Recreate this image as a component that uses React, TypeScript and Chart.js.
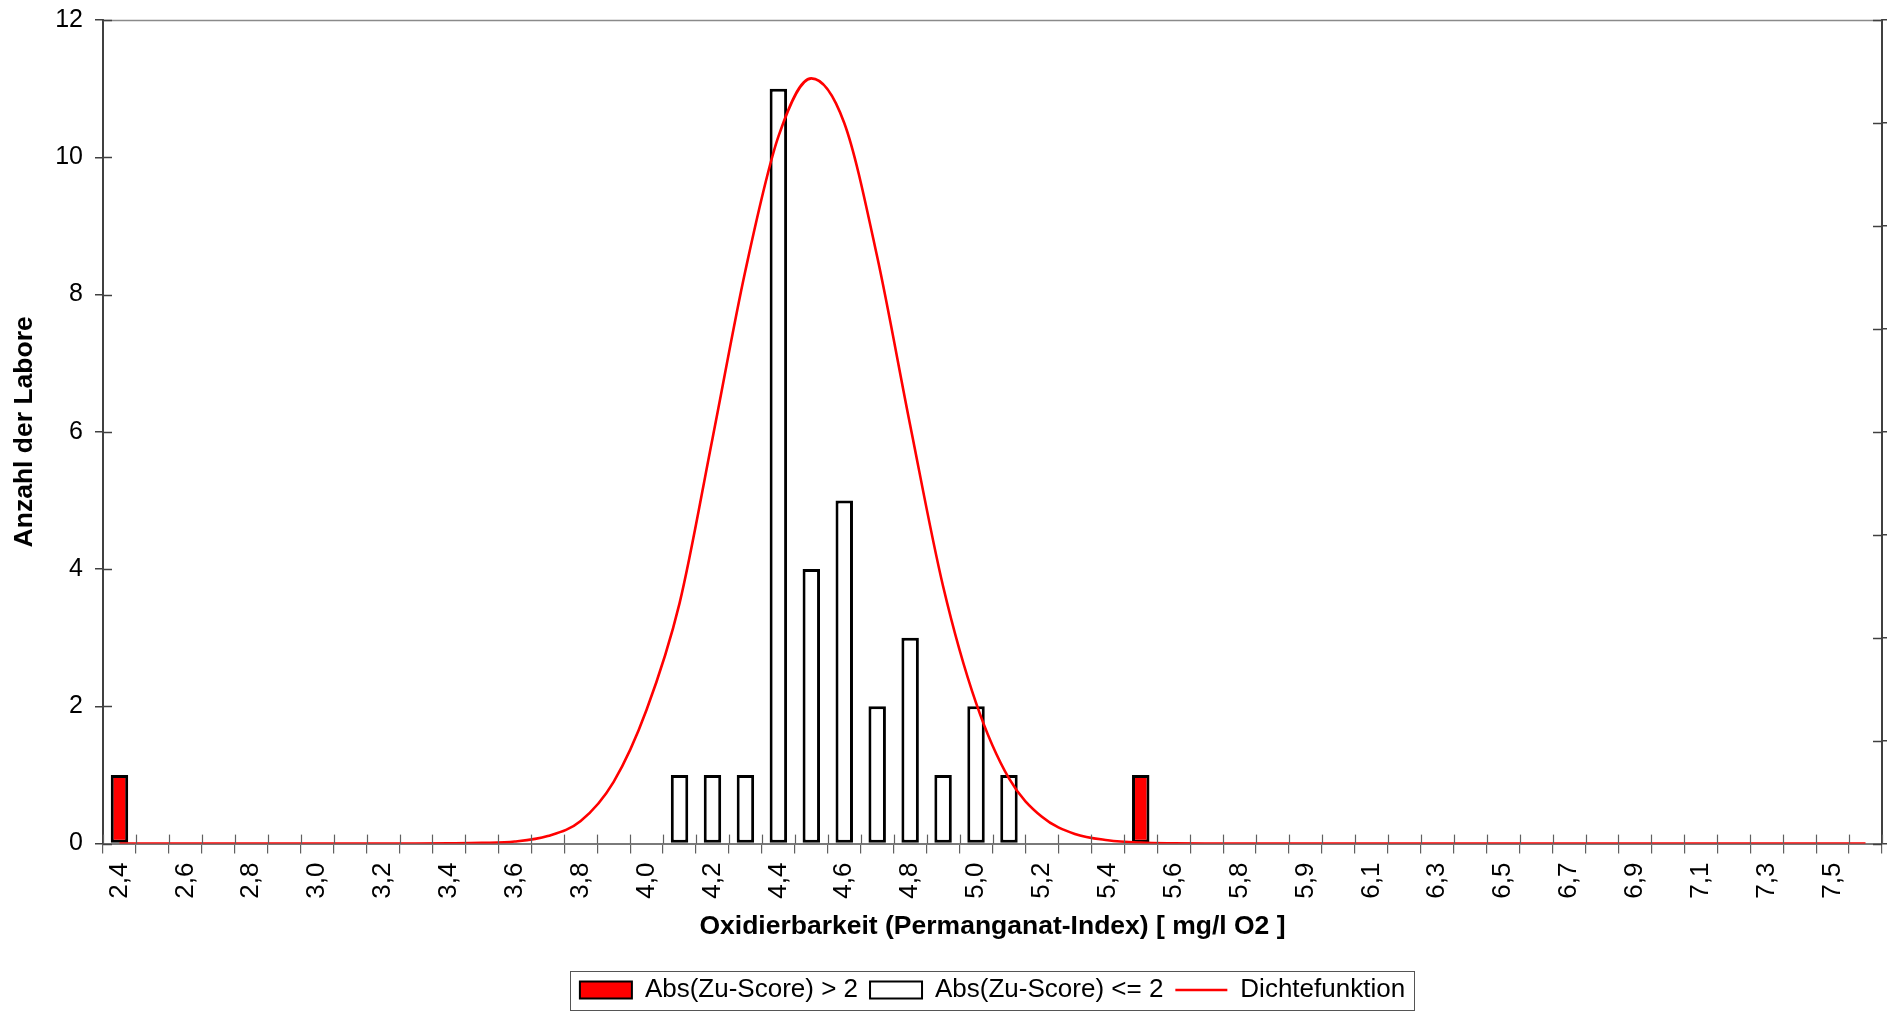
import React, { useEffect, useRef } from 'react';
import { Chart, registerables } from 'chart.js';

Chart.register(...registerables);

// Class labels (bin centres, rounded as printed on the axis)
const categories: string[] = [
  '2,4', '2,5', '2,6', '2,7', '2,8', '2,9', '3,0', '3,1', '3,2', '3,3',
  '3,4', '3,5', '3,6', '3,7', '3,8', '3,9', '4,0', '4,1', '4,2', '4,3',
  '4,4', '4,5', '4,6', '4,7', '4,8', '4,9', '5,0', '5,1', '5,2', '5,3',
  '5,4', '5,5', '5,6', '5,7', '5,8', '5,8', '5,9', '6,0', '6,1', '6,2',
  '6,3', '6,4', '6,5', '6,6', '6,7', '6,8', '6,9', '7,0', '7,1', '7,2',
  '7,3', '7,4', '7,5', '7,6',
];

// Abs(Zu-Score) > 2
const outlierCounts: (number | null)[] = [
  1, null, null, null, null, null, null, null, null, null,
  null, null, null, null, null, null, null, null, null, null,
  null, null, null, null, null, null, null, null, null, null,
  null, 1, null, null, null, null, null, null, null, null,
  null, null, null, null, null, null, null, null, null, null,
  null, null, null, null,
];

// Abs(Zu-Score) <= 2
const regularCounts: (number | null)[] = [
  null, null, null, null, null, null, null, null, null, null,
  null, null, null, null, null, null, null, 1, 1, 1,
  11, 4, 5, 2, 3, 1, 2, 1, null, null,
  null, null, null, null, null, null, null, null, null, null,
  null, null, null, null, null, null, null, null, null, null,
  null, null, null, null,
];

// Dichtefunktion (at each class centre)
const density: number[] = [
  0, 0, 0, 0, 0, 0, 0, 0, 0, 0,
  0.003, 0.01, 0.03, 0.11, 0.33, 0.9, 1.95, 3.5, 5.9, 8.35,
  10.3, 11.15, 10.5, 8.55, 6.1, 3.75, 2.05, 0.95, 0.39, 0.14,
  0.05, 0.015, 0.004, 0, 0, 0, 0, 0, 0, 0,
  0, 0, 0, 0, 0, 0, 0, 0, 0, 0,
  0, 0, 0, 0,
];

const seriesNames = ['Abs(Zu-Score) > 2', 'Abs(Zu-Score) <= 2', 'Dichtefunktion'];
const xTitle = 'Oxidierbarkeit (Permanganat-Index) [ mg/l O2 ]';
const yTitle = 'Anzahl der Labore';

const FONT = "'Liberation Sans', Arial, sans-serif";

const framePlugin = {
  id: 'framePlugin',
  afterDraw(chart: any) {
    const { ctx, chartArea: a, scales } = chart;
    const px = (v: number) => Math.round(v) + 0.5;
    ctx.save();
    // top border
    ctx.strokeStyle = '#8a8a8a';
    ctx.lineWidth = 1.5;
    ctx.beginPath();
    ctx.moveTo(a.left, px(a.top));
    ctx.lineTo(a.right, px(a.top));
    ctx.stroke();
    // inner ticks, left axis
    ctx.strokeStyle = '#404040';
    ctx.lineWidth = 1.5;
    scales.y.ticks.forEach((t: any) => {
      const yy = px(scales.y.getPixelForValue(t.value));
      ctx.beginPath();
      ctx.moveTo(a.left, yy);
      ctx.lineTo(a.left + 9, yy);
      ctx.stroke();
    });
    // inner ticks, right axis
    scales.y2.ticks.forEach((t: any) => {
      const yy = px(scales.y2.getPixelForValue(t.value));
      ctx.beginPath();
      ctx.moveTo(a.right - 9, yy);
      ctx.lineTo(a.right, yy);
      ctx.stroke();
    });
    // inner ticks, x axis (class boundaries)
    ctx.strokeStyle = '#606060';
    ctx.lineWidth = 1.2;
    for (let i = 0; i <= categories.length; i++) {
      const xx = px(scales.x.getPixelForValue(i - 0.5));
      ctx.beginPath();
      ctx.moveTo(xx, a.bottom);
      ctx.lineTo(xx, a.bottom - 9);
      ctx.stroke();
    }
    // legend frame
    const boxes = chart.legend && chart.legend.legendHitBoxes;
    if (boxes && boxes.length) {
      const first = boxes[0];
      const last = boxes[boxes.length - 1];
      const cy = first.top + first.height / 2;
      const l = Math.round(first.left - 10) + 0.5;
      const r = Math.round(last.left + last.width + 9) + 0.5;
      const t = Math.round(cy - 19.5) + 0.5;
      ctx.strokeStyle = '#555555';
      ctx.lineWidth = 1;
      ctx.strokeRect(l, t, r - l, 39);
    }
    ctx.restore();
  },
};

export default function App() {
  const ref = useRef<HTMLCanvasElement>(null);

  useEffect(() => {
    Chart.defaults.font.family = FONT;
    Chart.defaults.color = '#000';
    const chart = new Chart(ref.current as HTMLCanvasElement, {
      type: 'bar',
      data: {
        labels: categories,
        datasets: [
          {
            type: 'bar',
            label: seriesNames[0],
            data: outlierCounts,
            backgroundColor: '#ff0000',
            borderColor: '#000000',
            borderWidth: 3,
            borderSkipped: false,
            grouped: false,
            categoryPercentage: 1,
            barPercentage: 0.53,
            yAxisID: 'y',
            order: 1,
          },
          {
            type: 'bar',
            label: seriesNames[1],
            data: regularCounts,
            backgroundColor: '#ffffff',
            borderColor: '#000000',
            borderWidth: 3,
            borderSkipped: false,
            grouped: false,
            categoryPercentage: 1,
            barPercentage: 0.53,
            yAxisID: 'y',
            order: 2,
          },
          {
            type: 'line',
            label: seriesNames[2],
            data: density,
            borderColor: '#ff0000',
            backgroundColor: '#ff0000',
            borderWidth: 2.6,
            pointRadius: 0,
            cubicInterpolationMode: 'monotone',
            fill: false,
            yAxisID: 'y',
            order: 0,
          },
        ] as any,
      },
      options: {
        animation: false,
        responsive: true,
        maintainAspectRatio: false,
        events: [],
        layout: { padding: { top: 20, left: 0, right: 0, bottom: 0 } },
        plugins: {
          tooltip: { enabled: false },
          legend: {
            display: true,
            position: 'bottom',
            fullSize: false,
            labels: {
              usePointStyle: true,
              pointStyleWidth: 52,
              boxHeight: 17,
              padding: 12,
              color: '#000',
              font: { size: 26, family: FONT },
              sort: (a: any, b: any) => a.datasetIndex - b.datasetIndex,
              generateLabels: (c: any) => {
                const items = (Chart.defaults.plugins.legend.labels as any).generateLabels(c);
                return items.map((it: any) => ({
                  ...it,
                  pointStyle: it.datasetIndex === 2 ? 'line' : 'rect',
                  lineWidth: it.datasetIndex === 2 ? 2.5 : 2,
                  fillStyle: it.datasetIndex === 2 ? '#ff0000' : it.fillStyle,
                  strokeStyle: it.datasetIndex === 2 ? '#ff0000' : '#000000',
                }));
              },
            },
          },
        },
        scales: {
          x: {
            type: 'category',
            offset: true,
            afterFit: (s: any) => {
              s.height = 121.4;
              s.paddingLeft = 0;
              s.paddingRight = 0;
            },
            grid: {
              display: true,
              offset: true,
              drawOnChartArea: false,
              drawTicks: true,
              tickLength: 10,
              color: '#606060',
              lineWidth: 1.2,
            },
            border: { display: true, color: '#7a7a7a', width: 2 },
            ticks: {
              autoSkip: false,
              minRotation: 90,
              maxRotation: 90,
              padding: 9,
              color: '#000',
              font: { size: 26, family: FONT },
              callback: (_v: any, i: number) => (i % 2 === 0 ? categories[i] : ''),
            },
            title: {
              display: true,
              text: xTitle,
              color: '#000',
              font: { size: 26.5, weight: 'bold', family: FONT },
              padding: { top: 0, bottom: 22.6 },
            },
          },
          y: {
            type: 'linear',
            position: 'left',
            min: 0,
            max: 12,
            afterFit: (s: any) => {
              s.width = 103;
              s.paddingTop = 0;
              s.paddingBottom = 0;
            },
            grid: {
              display: true,
              drawOnChartArea: false,
              drawTicks: true,
              tickLength: 8,
              color: '#404040',
              lineWidth: 1.5,
            },
            border: { display: true, color: '#404040', width: 2 },
            ticks: {
              stepSize: 2,
              padding: 12,
              color: '#000',
              font: { size: 25, family: FONT },
            },
            title: {
              display: true,
              text: yTitle,
              color: '#000',
              font: { size: 26.5, weight: 'bold', family: FONT },
              padding: { top: 9.2, bottom: 0 },
            },
          },
          y2: {
            type: 'linear',
            position: 'right',
            min: 0,
            max: 8,
            afterFit: (s: any) => {
              s.width = 5;
              s.paddingTop = 0;
              s.paddingBottom = 0;
            },
            grid: {
              display: true,
              drawOnChartArea: false,
              drawTicks: true,
              tickLength: 5,
              color: '#404040',
              lineWidth: 1.5,
            },
            border: { display: true, color: '#404040', width: 2 },
            ticks: { stepSize: 1, display: false },
          },
        },
      } as any,
      plugins: [framePlugin],
    });
    return () => chart.destroy();
  }, []);

  return (
    <div style={{ position: 'fixed', left: 0, top: 0, width: 1887, height: 1013, background: '#fff' }}>
      <canvas ref={ref} />
    </div>
  );
}
